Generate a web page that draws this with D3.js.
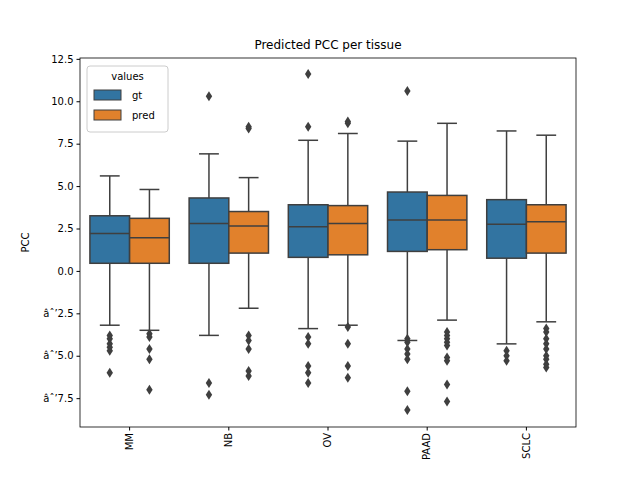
<!DOCTYPE html>
<html><head><script src="https://cdn.jsdelivr.net/npm/d3@7"></script>
<style>body{margin:0;background:#fff}text{font-family:"DejaVu Sans",sans-serif}</style></head>
<body><svg id="c" width="640" height="480"></svg>
<script>
const categories=["MM","NB","OV","PAAD","SCLC"];
const series=["gt","pred"];
const colors=["#3274a1","#e1812c"];
// [lowWhisker, q1, median, q3, highWhisker]
const gtStats=[[-3.2,0.45,2.2,3.25,5.6],[-3.8,0.45,2.8,4.3,6.9],[-3.4,0.8,2.6,3.9,7.7],[-4.1,1.15,3.0,4.65,7.65],[-4.3,0.75,2.75,4.2,8.25]];
const predStats=[[-3.5,0.45,1.95,3.1,4.8],[-2.2,1.05,2.65,3.5,5.5],[-3.2,0.95,2.8,3.85,8.1],[-2.9,1.25,3.0,4.45,8.7],[-3.0,1.05,2.9,3.9,8.0]];
const gtOut=[[-3.8,-4.0,-4.3,-4.5,-4.7,-6.0],[10.3,-6.6,-7.3],[11.6,8.5,-3.9,-4.3,-5.6,-6.0,-6.6],[10.6,-4.0,-4.2,-4.6,-4.9,-5.2,-7.1,-8.2],[-4.7,-5.0,-5.3]];
const predOut=[[-3.7,-3.9,-4.6,-5.2,-7.0],[8.4,8.5,-3.8,-4.1,-4.6,-5.9,-6.2],[8.7,8.8,-3.3,-4.3,-5.6,-6.3],[-3.6,-3.8,-4.0,-4.2,-4.4,-5.1,-5.3,-6.7,-7.7],[-3.4,-3.6,-4.0,-4.3,-4.6,-5.0,-5.2,-5.5,-5.7]];
const yTicks=[-7.5,-5.0,-2.5,0.0,2.5,5.0,7.5,10.0,12.5];

const svg=d3.select("#c");
const L=80,R=576,T=58,B=427;
const x=d3.scaleBand().domain(categories).range([L,R]);
const xs=d3.scaleBand().domain(series).range([0,x.bandwidth()]).paddingOuter(0.25);
const y=d3.scaleLinear().domain([-9.2,12.55]).range([B,T]);
const stats=[gtStats,predStats],outs=[gtOut,predOut];
const edge="#3f3f3f";
categories.forEach((c,i)=>{
  series.forEach((s,j)=>{
    const st=stats[j][i];
    const bx=x(c)+xs(s), bw=xs.bandwidth(), cx=bx+bw/2;
    const g=svg.append("g");
    g.append("line").attr("x1",cx).attr("x2",cx).attr("y1",y(st[0])).attr("y2",y(st[1])).attr("stroke",edge).attr("stroke-width",1.5);
    g.append("line").attr("x1",cx).attr("x2",cx).attr("y1",y(st[3])).attr("y2",y(st[4])).attr("stroke",edge).attr("stroke-width",1.5);
    [st[0],st[4]].forEach(v=>g.append("line").attr("x1",cx-bw/4).attr("x2",cx+bw/4).attr("y1",y(v)).attr("y2",y(v)).attr("stroke",edge).attr("stroke-width",1.5));
    g.append("rect").attr("x",bx).attr("width",bw).attr("y",y(st[3])).attr("height",y(st[1])-y(st[3])).attr("fill",colors[j]).attr("stroke",edge).attr("stroke-width",1.5);
    g.append("line").attr("x1",bx).attr("x2",bx+bw).attr("y1",y(st[2])).attr("y2",y(st[2])).attr("stroke",edge).attr("stroke-width",1.5);
    g.selectAll("path.o").data(outs[j][i]).enter().append("path")
      .attr("d","M0,-5L3.2,0L0,5L-3.2,0Z").attr("transform",v=>`translate(${cx},${y(v)})`).attr("fill",edge);
  });
});
svg.append("rect").attr("x",L).attr("y",T).attr("width",R-L).attr("height",B-T).attr("fill","none").attr("stroke","#000").attr("stroke-width",0.8);
const ya=svg.append("g").attr("transform",`translate(${L},0)`).call(d3.axisLeft(y).tickValues(yTicks).tickFormat(d3.format(".1f")).tickSizeOuter(0).tickSize(3.5));
ya.select(".domain").remove();
ya.selectAll("text").attr("font-size",10).attr("fill","#000");
const xa=svg.append("g").attr("transform",`translate(0,${B})`).call(d3.axisBottom(x).tickSizeOuter(0).tickSize(3.5));
xa.select(".domain").remove();
xa.selectAll("text").attr("font-size",10).attr("fill","#000").attr("transform","rotate(-90)").attr("text-anchor","end").attr("dy","0.32em").attr("x",-6).attr("y",0);
svg.append("text").attr("x",(L+R)/2).attr("y",49).attr("text-anchor","middle").attr("font-size",12).text("Predicted PCC per tissue");
svg.append("text").attr("transform",`translate(29,${(T+B)/2}) rotate(-90)`).attr("text-anchor","middle").attr("font-size",10).text("PCC");
const lg=svg.append("g").attr("transform","translate(87,66)");
lg.append("rect").attr("width",81).attr("height",66).attr("rx",3).attr("fill","#fff").attr("fill-opacity",0.8).attr("stroke","#ccc");
lg.append("text").attr("x",40.5).attr("y",14).attr("text-anchor","middle").attr("font-size",10).text("values");
series.forEach((s,j)=>{
  lg.append("rect").attr("x",7).attr("y",24+j*20).attr("width",27).attr("height",10).attr("fill",colors[j]).attr("stroke",edge).attr("stroke-width",1);
  lg.append("text").attr("x",45).attr("y",33+j*20).attr("font-size",10).text(s);
});
</script></body></html>
